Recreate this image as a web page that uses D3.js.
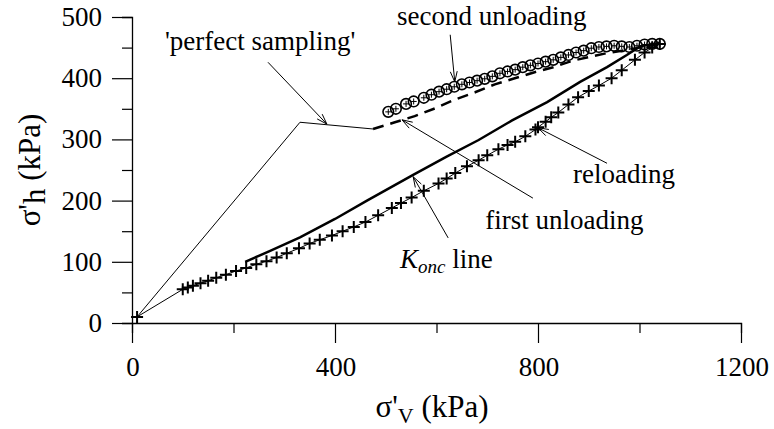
<!DOCTYPE html>
<html><head><meta charset="utf-8">
<script src="https://cdn.jsdelivr.net/npm/d3@7/dist/d3.min.js"></script>
<style>
body{margin:0;background:#fff}
svg{display:block}
</style>
</head><body>
<svg id="chart" width="774" height="429"></svg>
<script>
// ---- data (kPa) ----
const xTicks = [0, 400, 800, 1200];
const yTicks = [0, 100, 200, 300, 400, 500];

// loading / reloading test points (crosses)
const crossV = [10,100,110,120,135,150,166,185,205,225,245,265,285,305,329,350,370,394,415,437,460,485,512,530,551,575,604,620,637,660,683,700,722,740,755,775,795,800,815,826,840,860,879,900,920,945,965,991,1010,1025,1040];
const crossH = [10,55,58,61,65,69,74,79,85,90,96,101,107,114,122,130,136,143,150,157,165,176,188,196,205,216,228,236,245,256,266,274,284,291,296,305,316,320,329,336,344,357,369,379,388,400,413,430,442,450,456];

// second unloading (circles)
const circV = [505,520,540,555,575,590,605,620,635,650,665,680,695,710,725,740,755,770,785,800,815,830,845,860,875,890,905,920,935,950,965,980,995,1010,1025,1040];
const circH = [345,350,358,362,368,373,378,382,386,390,393,396,399,403,408,411,414,418,421,424,427,430,434,438,442,445,449,451,452,453,452,451,453,455,456,456];

// K0nc line (solid)
const koncV = [223,270,331,400,463,554,620,683,749,818,883,936,975,1001,1040];
const koncH = [100,117,140,170,200,242,272,299,331,361,394,418,438,452,458];

// first unloading (dashed)
const unlV = [475,518,557,601,636,676,715,751,790,830,870,936,981,1040];
const unlH = [317,328,338,352,365,377,390,399,409,418,429,441,447,456];

// 'perfect sampling' path
const perfV = [475,331,10];
const perfH = [317,328,10];

// annotation labels
const labels = ["'perfect sampling'", "second unloading", "reloading", "first unloading", "line"];

// ---- drawing ----
const FONT = "Liberation Serif";
const svg = d3.select("#chart");
const x = d3.scaleLinear().domain([0,1200]).range([132,741]);
const y = d3.scaleLinear().domain([0,500]).range([323,17]);
const pts = (vs, hs) => vs.map((v,i)=>[v, hs[i]]);
const line = d3.line().x(d=>x(d[0])).y(d=>y(d[1]));

// axes
const xAxis = d3.axisBottom(x).tickValues(d3.range(0,1201,200)).tickSize(10).tickFormat("");
const gx = svg.append("g").attr("transform",`translate(0,${y(0)})`).call(xAxis);
gx.selectAll(".tick line").filter(d=>xTicks.includes(d)).attr("y2",20);
const yAxis = d3.axisLeft(y).tickValues(d3.range(0,501,50)).tickSize(10).tickFormat("");
const gy = svg.append("g").attr("transform",`translate(${x(0)},0)`).call(yAxis);
gy.selectAll(".tick line").filter(d=>yTicks.includes(d)).attr("x2",-20);
[gx, gy].forEach(g=>{
  g.select(".domain").attr("stroke","#000").attr("stroke-width",1.3);
  g.selectAll(".tick line").attr("stroke","#000").attr("stroke-width",1.2);
});

svg.append("g").selectAll("text").data(xTicks).join("text")
  .attr("x", d=>x(d)+1).attr("y", 376).attr("text-anchor","middle")
  .attr("font-size",27).text(d=>d);
svg.append("g").selectAll("text").data(yTicks).join("text")
  .attr("x", 102).attr("y", d=>y(d)+9).attr("text-anchor","end")
  .attr("font-size",27).text(d=>d);

// axis titles
const xt = svg.append("text").attr("x", 432).attr("y", 417).attr("text-anchor","middle").attr("font-size",31);
xt.append("tspan").text("σ'");
xt.append("tspan").attr("dy",6).attr("font-size",22).text("V");
xt.append("tspan").attr("dy",-6).text(" (kPa)");

const yt = svg.append("text").attr("transform","translate(40,170) rotate(-90)").attr("text-anchor","middle").attr("font-size",31);
yt.append("tspan").text("σ'");
yt.append("tspan").attr("dy",5).text("h");
yt.append("tspan").attr("dy",-5).text(" (kPa)");

// series
svg.append("path").attr("d", line(pts(perfV, perfH))).attr("fill","none").attr("stroke","#000").attr("stroke-width",1);
svg.append("path").attr("d", line(pts(crossV, crossH))).attr("fill","none").attr("stroke","#000").attr("stroke-width",1);
svg.append("path").attr("d", line(pts(koncV, koncH))).attr("fill","none").attr("stroke","#000").attr("stroke-width",2.5);
svg.append("path").attr("d", line(pts(unlV, unlH))).attr("fill","none").attr("stroke","#000").attr("stroke-width",2.5).attr("stroke-dasharray","11,7");

const cs = 6;
svg.append("g").selectAll("path").data(pts(crossV, crossH)).join("path")
  .attr("d", d=>`M${x(d[0])-cs},${y(d[1])}H${x(d[0])+cs}M${x(d[0])},${y(d[1])-cs}V${y(d[1])+cs}`)
  .attr("stroke","#000").attr("stroke-width",2).attr("fill","none");

const cg = svg.append("g").selectAll("g").data(pts(circV, circH)).join("g")
  .attr("transform", d=>`translate(${x(d[0])},${y(d[1])})`);
cg.append("circle").attr("r",5.3).attr("fill","none").attr("stroke","#000").attr("stroke-width",1.6);
cg.append("path").attr("d","M-3,0H3M0,-3V3").attr("stroke","#000").attr("stroke-width",1);

// annotations: arrows (tail -> head) in data coords
const arrows = [
  [[268,426],[384,325]],
  [[627,471],[636,394]],
  [[790,204],[532,332]],
  [[936,261],[800,319]],
  [[623,139],[554,239]]
];
arrows.forEach(([t,h])=>{
  const x1=x(t[0]), y1=y(t[1]), x2=x(h[0]), y2=y(h[1]);
  const a = Math.atan2(y2-y1, x2-x1), L=11, w=0.32;
  const p1=[x2-L*Math.cos(a-w), y2-L*Math.sin(a-w)];
  const p2=[x2-L*Math.cos(a+w), y2-L*Math.sin(a+w)];
  svg.append("path").attr("d",`M${x1},${y1}L${x2},${y2}M${p1[0]},${p1[1]}L${x2},${y2}L${p2[0]},${p2[1]}`)
    .attr("fill","none").attr("stroke","#000").attr("stroke-width",1);
});

svg.append("text").attr("x",x(65)).attr("y",y(446)).attr("font-size",27).text(labels[0]);
svg.append("text").attr("x",x(522)).attr("y",y(487)).attr("font-size",27).text(labels[1]);
svg.append("text").attr("x",x(869)).attr("y",y(229)).attr("font-size",27).text(labels[2]);
svg.append("text").attr("x",x(696)).attr("y",y(154)).attr("font-size",27).text(labels[3]);
const kt = svg.append("text").attr("x",x(528)).attr("y",y(90)).attr("font-size",27);
kt.append("tspan").attr("font-style","italic").text("K");
kt.append("tspan").attr("dy",5).attr("font-style","italic").attr("font-size",19).text("onc");
kt.append("tspan").attr("dy",-5).text(" " + labels[4]);

svg.selectAll("text").attr("font-family", FONT).attr("fill","#000");
</script>
</body></html>
